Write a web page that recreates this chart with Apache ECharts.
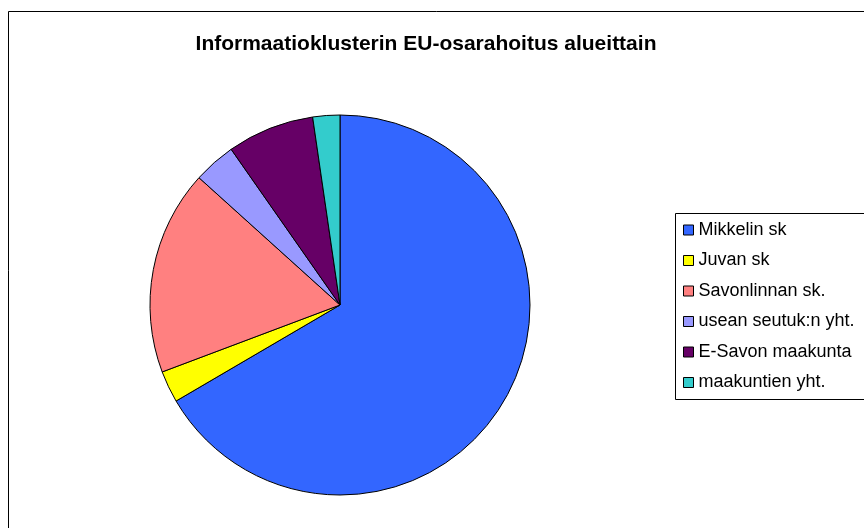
<!DOCTYPE html>
<html>
<head>
<meta charset="utf-8">
<script src="https://cdn.jsdelivr.net/npm/echarts@6/dist/echarts.min.js"></script>
<style>
  html, body { margin: 0; padding: 0; background: #fff; }
  #chart { width: 864px; height: 528px; }
</style>
</head>
<body>
<div id="chart"></div>
<script>
// shares by region (%)
const regions = ['Mikkelin sk', 'Juvan sk', 'Savonlinnan sk.', 'usean seutuk:n yht.', 'E-Savon maakunta', 'maakuntien yht.'];
const shares = [66.5, 2.7, 17.4, 3.6, 7.4, 2.3];
const colors = ['#3366ff', '#ffff00', '#ff8080', '#9999ff', '#660066', '#33cccc'];

const chart = echarts.init(document.getElementById('chart'));
const fontFamily = '"Liberation Sans", Arial, sans-serif';

chart.setOption({
  animation: false,
  title: {
    text: 'Informaatioklusterin EU-osarahoitus alueittain',
    left: 421, top: 29, textAlign: 'center',
    textStyle: { fontFamily, fontSize: 21, fontWeight: 'bold', color: '#000' }
  },
  graphic: [
    { type: 'rect', shape: { x: 8.5, y: 11.5, width: 900, height: 600 }, style: { fill: 'none', stroke: '#000', lineWidth: 1 }, z: -1 },
    { type: 'rect', shape: { x: 675.5, y: 213.5, width: 300, height: 186 }, style: { fill: '#fff', stroke: '#000', lineWidth: 1 }, z: 0 }
  ],
  legend: {
    orient: 'vertical',
    left: 683, top: 221, padding: 0,
    icon: 'rect',
    itemWidth: 10, itemHeight: 10, itemGap: 12.5,
    z: 5,
    itemStyle: { borderColor: '#000', borderWidth: 1 },
    textStyle: { fontFamily, fontSize: 18, color: '#000' },
    data: regions
  },
  series: [{
    type: 'pie',
    center: [340, 305],
    radius: [0, 190],
    startAngle: 90,
    clockwise: true,
    silent: true,
    label: { show: false },
    labelLine: { show: false },
    itemStyle: { borderColor: '#000', borderWidth: 1 },
    data: regions.map((name, i) => ({ name, value: shares[i], itemStyle: { color: colors[i] } }))
  }]
});
</script>
</body>
</html>
